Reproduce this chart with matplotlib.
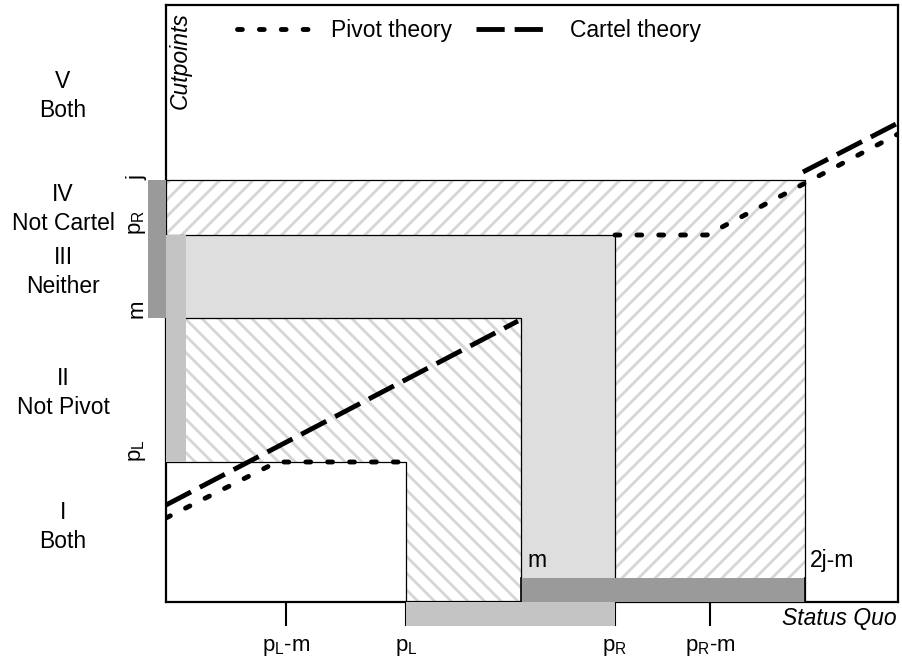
import matplotlib as ml
ml.use('Agg')
import matplotlib.pyplot as plt
from matplotlib.patches import Rectangle
from matplotlib.lines import Line2D

plt.rcParams['font.family'] = ['Liberation Sans', 'DejaVu Sans']
plt.rcParams['mathtext.default'] = 'regular'
plt.rcParams['hatch.linewidth'] = 2.0

# status quo cutpoints (horizontal axis)
sq_pL, sq_m, sq_pR, sq_2jm = 240, 355, 449, 639
sq_ticks = [120, 240, 449, 544]
sq_tick_labels = [r'p$_L$-m', r'p$_L$', r'p$_R$', r'p$_R$-m']

# cutpoints on the vertical axis
cut_pL, cut_m, cut_pR, cut_j = 140, 284, 367, 422
cut_labels = [r'p$_L$', 'm', r'p$_R$', 'j']

# regions
region_labels = ['V\nBoth', 'IV\nNot Cartel', 'III\nNeither', 'II\nNot Pivot', 'I\nBoth']
region_y = [506, 393, 330, 209, 75]

# theory lines
pivot_x1 = [0, 111, 232]
pivot_y1 = [84, 140, 140]
pivot_x2 = [449, 541, 732]
pivot_y2 = [367, 367, 468]
cartel_x1 = [0, 352]
cartel_y1 = [97, 281]
cartel_x2 = [637, 732]
cartel_y2 = [430, 479]

hatch_col = '#d6d6d6'
light = '#c4c4c4'
dark = '#9a9a9a'

fig = plt.figure(figsize=(9.02, 6.64), dpi=100)
ax = fig.add_axes([166/902, 62/664, 732/902, 597/664])
ax.set_xlim(0, 732)
ax.set_ylim(0, 597)

# region IV (hatched /)
ax.add_patch(Rectangle((0, 0), sq_2jm, cut_j, facecolor='white', edgecolor=hatch_col,
                       hatch='//', lw=0, zorder=1))
# region III (light gray)
ax.add_patch(Rectangle((0, 0), sq_pR, cut_pR, facecolor='#dedede', lw=0, zorder=1.1))
# region II (hatched \)
ax.add_patch(Rectangle((0, 0), sq_m, cut_m, facecolor='white', edgecolor=hatch_col,
                       hatch='\\\\', lw=0, zorder=1.2))
# region I (white)
ax.add_patch(Rectangle((0, 0), sq_pL, cut_pL, facecolor='white', lw=0, zorder=1.3))

# outlines
for w, h in [(sq_2jm, cut_j), (sq_pR, cut_pR), (sq_m, cut_m), (sq_pL, cut_pL)]:
    ax.plot([0, w, w], [h, h, 0], color='black', lw=0.9, zorder=2)

# shaded strips
ax.add_patch(Rectangle((0, cut_pL), 20, cut_pR - cut_pL, facecolor=light, lw=0, zorder=3))
ax.add_patch(Rectangle((sq_m, 0), sq_2jm - sq_m, 24, facecolor=dark, lw=0, zorder=3))
for xe in [sq_m, sq_2jm]:
    ax.plot([xe, xe], [0, 24], color='black', lw=1.2, zorder=3.1)
ax.add_patch(Rectangle((sq_pL, -24), sq_pR - sq_pL, 24, facecolor=light, lw=0,
                       clip_on=False, zorder=3))
ax.add_patch(Rectangle((-18, cut_m), 18, cut_j - cut_m, facecolor=dark, lw=0,
                       clip_on=False, zorder=3))

# theory lines
dot_kw = dict(color='black', lw=3.5, dashes=(1.0, 3.5), dash_capstyle='round', zorder=5)
dash_kw = dict(color='black', lw=3.5, dashes=(5.8, 2.05), dash_capstyle='butt', zorder=4)
ax.plot(pivot_x1, pivot_y1, **dot_kw)
ax.plot(pivot_x2, pivot_y2, **dot_kw)
ax.plot(cartel_x1, cartel_y1, **dash_kw)
ax.plot(cartel_x2, cartel_y2, **dash_kw)

handles = [Line2D([], [], **dot_kw), Line2D([], [], **dash_kw)]
ax.legend(handles, ['Pivot theory', 'Cartel theory'], loc='center left',
          bbox_to_anchor=(0.097, 0.958), ncol=2, frameon=False, fontsize=16.5,
          handlelength=3.3, handletextpad=0.8, columnspacing=1.05,
          borderpad=0, borderaxespad=0)

# axes
for s in ax.spines.values():
    s.set_linewidth(1.6)
ax.set_yticks([])
ax.set_xticks(sq_ticks)
ax.set_xticklabels(sq_tick_labels, fontsize=16)
ax.tick_params(axis='x', direction='out', length=17, width=1.5, pad=8)

# vertical cutpoint labels
for y, lab in zip([cut_pL, cut_m, cut_pR, cut_j], cut_labels):
    ax.text(-29, y, lab, rotation=90, ha='center', va='bottom', fontsize=16, clip_on=False)

for y, lab in zip(region_y, region_labels):
    ax.text(-103, y, lab, ha='center', va='center', fontsize=16.5, linespacing=1.35,
            clip_on=False)

ax.text(14, 590, 'Cutpoints', rotation=90, ha='center', va='top', fontsize=16.5,
        style='italic')
ax.text(731, -16, 'Status Quo', ha='right', va='center', fontsize=16.5, style='italic',
        clip_on=False)
ax.text(sq_m + 6, 35, 'm', ha='left', va='baseline', fontsize=16.5, zorder=6)
ax.text(sq_2jm + 5, 35, '2j-m', ha='left', va='baseline', fontsize=16.5, zorder=6)

fig.savefig('out.png', dpi=100)
